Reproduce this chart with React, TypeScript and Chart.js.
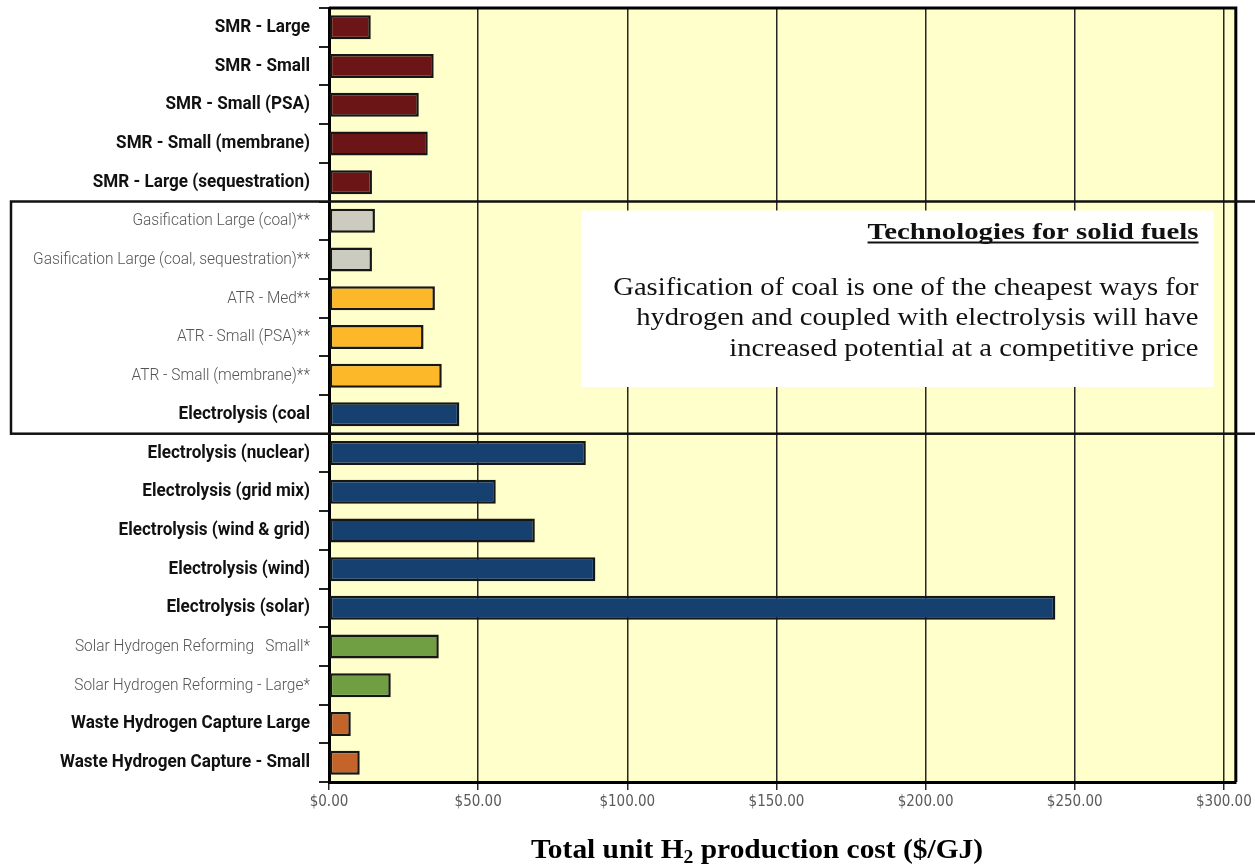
import React, { useEffect, useRef } from 'react';
import { Chart, registerables } from 'chart.js';

Chart.register(...registerables);

// Hydrogen production technologies, top to bottom
const technologies = [
  'SMR - Large',
  'SMR - Small',
  'SMR - Small (PSA)',
  'SMR - Small (membrane)',
  'SMR - Large (sequestration)',
  'Gasification Large (coal)**',
  'Gasification Large (coal, sequestration)**',
  'ATR - Med**',
  'ATR - Small (PSA)**',
  'ATR - Small (membrane)**',
  'Electrolysis (coal',
  'Electrolysis (nuclear)',
  'Electrolysis (grid mix)',
  'Electrolysis (wind & grid)',
  'Electrolysis (wind)',
  'Electrolysis (solar)',
  'Solar Hydrogen Reforming   Small*',
  'Solar Hydrogen Reforming - Large*',
  'Waste Hydrogen Capture Large',
  'Waste Hydrogen Capture - Small',
];

// Total unit H2 production cost, $/GJ
const costs = [
  14.0, 35.1, 30.1, 33.1, 14.4,
  15.4, 14.4, 35.5, 31.7, 37.8, 43.7,
  86.1, 55.9, 69.0, 89.3, 243.5,
  36.8, 20.7, 7.3, 10.3,
];

// Which category labels are set in bold
const boldLabel = [
  true, true, true, true, true,
  false, false, false, false, false, true,
  true, true, true, true, true,
  false, false, true, true,
];

const MAROON = '#6b1516';
const GREY = '#cbcbbf';
const AMBER = '#fdb829';
const BLUE = '#15406f';
const GREEN = '#6f9f42';
const RUST = '#c4642a';

const barColors = [
  MAROON, MAROON, MAROON, MAROON, MAROON,
  GREY, GREY, AMBER, AMBER, AMBER, BLUE,
  BLUE, BLUE, BLUE, BLUE, BLUE,
  GREEN, GREEN, RUST, RUST,
];

const xTickValues = [0, 50, 100, 150, 200, 250, 300];
const xMax = 304;

// Grouped rows (first and last index) outlined as solid-fuel technologies
const groupStart = 5;
const groupEnd = 10;

const noteTitle = 'Technologies for solid fuels';
const noteLines = [
  'Gasification of coal is one of the cheapest ways for',
  'hydrogen and coupled with electrolysis will have',
  'increased potential at a competitive price',
];

const SANS = "Roboto, 'Noto Sans', sans-serif";
const SERIF = "'Liberation Serif', 'DejaVu Serif', serif";

// draws text horizontally scaled about its anchor point
function stretchedText(ctx: CanvasRenderingContext2D, text: string, x: number, y: number, sx: number) {
  ctx.save();
  ctx.translate(x, y);
  ctx.scale(sx, 1);
  ctx.fillText(text, 0, 0);
  ctx.restore();
}

const decorations = {
  id: 'decorations',
  beforeDraw(chart: any) {
    const { ctx, chartArea: a } = chart;
    ctx.save();
    ctx.fillStyle = '#ffffcc';
    ctx.fillRect(a.left, a.top, a.width, a.height);
    ctx.restore();
  },
  afterDraw(chart: any) {
    const { ctx, chartArea: a } = chart;
    const xs = chart.scales.x;
    const ys = chart.scales.y;
    ctx.save();

    // top and right edges of the plot frame
    ctx.strokeStyle = '#000';
    ctx.lineWidth = 3;
    ctx.beginPath();
    ctx.moveTo(a.left, a.top);
    ctx.lineTo(a.right, a.top);
    ctx.lineTo(a.right, a.bottom);
    ctx.stroke();

    // category labels
    ctx.textAlign = 'right';
    ctx.textBaseline = 'middle';
    technologies.forEach((label, i) => {
      const y = ys.getPixelForValue(i);
      if (boldLabel[i]) {
        ctx.font = `bold 18px ${SANS}`;
        ctx.fillStyle = '#111';
        stretchedText(ctx, label, 310, y, 0.95);
      } else {
        ctx.font = `300 17px ${SANS}`;
        ctx.fillStyle = '#555';
        stretchedText(ctx, label, 310, y, 0.91);
      }
    });

    // outline around the solid-fuel rows
    const gTop = ys.getPixelForValue(groupStart - 0.5);
    const gBottom = ys.getPixelForValue(groupEnd + 0.5);
    ctx.lineWidth = 2.5;
    ctx.strokeStyle = '#111';
    ctx.strokeRect(11, gTop, chart.width + 20, gBottom - gTop);

    // note box
    const bLeft = xs.getPixelForValue(84.5);
    const bRight = xs.getPixelForValue(296.5);
    const bTop = ys.getPixelForValue(groupStart - 0.5) + 9;
    const bBottom = ys.getPixelForValue(9.5) - 8;
    ctx.fillStyle = '#ffffff';
    ctx.fillRect(bLeft, bTop, bRight - bLeft, bBottom - bTop);

    const textRight = xs.getPixelForValue(291.5);
    ctx.fillStyle = '#111';
    ctx.textAlign = 'right';
    ctx.textBaseline = 'alphabetic';
    ctx.font = `bold 24px ${SERIF}`;
    const titleBase = bTop + 28;
    const titleScale = 1.2;
    stretchedText(ctx, noteTitle, textRight, titleBase, titleScale);
    const tw = ctx.measureText(noteTitle).width * titleScale;
    ctx.fillRect(textRight - tw, titleBase + 3, tw, 2);

    ctx.font = `26px ${SERIF}`;
    noteLines.forEach((line, i) => {
      stretchedText(ctx, line, textRight, bTop + 84 + i * 30.5, 1.1);
    });

    // x-axis title with subscript
    const partA = 'Total unit H';
    const partSub = '2';
    const partB = ' production cost ($/GJ)';
    const sx = 1.09;
    const mainFont = `bold 27px ${SERIF}`;
    const subFont = `bold 18px ${SERIF}`;
    ctx.font = mainFont;
    const wA = ctx.measureText(partA).width * sx;
    const wB = ctx.measureText(partB).width * sx;
    ctx.font = subFont;
    const wS = ctx.measureText(partSub).width * sx;
    const total = wA + wS + wB;
    const cx = 757;
    const base = 858;
    let x = cx - total / 2;
    ctx.textAlign = 'left';
    ctx.fillStyle = '#000';
    ctx.font = mainFont;
    stretchedText(ctx, partA, x, base, sx);
    x += wA;
    ctx.font = subFont;
    stretchedText(ctx, partSub, x, base + 5, sx);
    x += wS;
    ctx.font = mainFont;
    stretchedText(ctx, partB, x, base, sx);

    ctx.restore();
  },
};

export default function App() {
  const canvasRef = useRef<HTMLCanvasElement | null>(null);

  useEffect(() => {
    document.body.style.margin = '0';
    const canvas = canvasRef.current;
    if (!canvas) return;

    const chart = new Chart(canvas, {
      type: 'bar',
      data: {
        labels: technologies,
        datasets: [
          {
            data: costs,
            backgroundColor: barColors,
            borderColor: '#161616',
            borderWidth: 2.5,
            borderSkipped: false,
            barPercentage: 0.62,
            categoryPercentage: 1,
          },
        ],
      },
      options: {
        indexAxis: 'y',
        responsive: false,
        animation: false,
        layout: { padding: { top: 8, right: 17, bottom: 0, left: 0 } },
        plugins: {
          legend: { display: false },
          tooltip: { enabled: false },
          title: { display: false },
        },
        scales: {
          x: {
            type: 'linear',
            min: 0,
            max: xMax,
            afterBuildTicks: (axis: any) => {
              axis.ticks = xTickValues.map((v) => ({ value: v }));
            },
            afterFit: (axis: any) => {
              axis.height = 85;
            },
            grid: {
              color: '#262626',
              lineWidth: 1.5,
              tickLength: 8,
              drawTicks: true,
            },
            border: { display: true, color: '#000', width: 3 },
            ticks: {
              padding: 3,
              color: '#5a5a5a',
              font: { family: "'DejaVu Sans Condensed', 'DejaVu Sans', sans-serif", size: 15 },
              callback: (v: any) => '$' + Number(v).toFixed(2),
            },
          },
          y: {
            type: 'category',
            offset: true,
            afterFit: (axis: any) => {
              axis.width = 329;
            },
            grid: {
              offset: true,
              drawOnChartArea: false,
              drawTicks: true,
              tickLength: 10,
              color: '#222',
              lineWidth: 2,
            },
            border: { display: true, color: '#000', width: 3 },
            ticks: { display: false, autoSkip: false },
          },
        },
      },
      plugins: [decorations],
    });

    return () => chart.destroy();
  }, []);

  return (
    <div style={{ width: 1255, height: 867, background: '#fff' }}>
      <canvas ref={canvasRef} width={1255} height={867} style={{ display: 'block' }} />
    </div>
  );
}
